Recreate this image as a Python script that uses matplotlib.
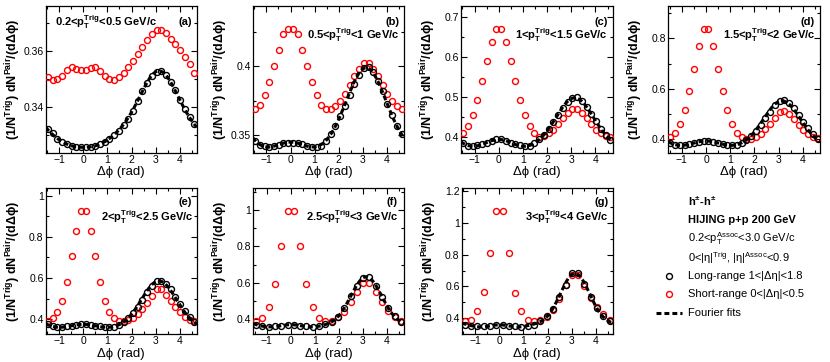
import numpy as np
import matplotlib
matplotlib.use('Agg')
import matplotlib.pyplot as plt
from matplotlib.ticker import MultipleLocator, AutoMinorLocator, FuncFormatter

plt.rcParams['font.family'] = ['Liberation Sans', 'DejaVu Sans']
plt.rcParams['mathtext.fontset'] = 'custom'
plt.rcParams['mathtext.rm'] = 'Liberation Sans'
plt.rcParams['mathtext.bf'] = 'Liberation Sans:bold'
plt.rcParams['mathtext.it'] = 'Liberation Sans:italic'
plt.rcParams['mathtext.fallback'] = 'stixsans'

# ---------------- data ----------------
edges32 = np.linspace(-np.pi / 2, 3 * np.pi / 2, 33)
dphi32 = 0.5 * (edges32[:-1] + edges32[1:])
edges24 = np.linspace(-np.pi / 2, 3 * np.pi / 2, 25)
dphi24 = 0.5 * (edges24[:-1] + edges24[1:])

a_long = [0.3322, 0.3305, 0.3285, 0.3275, 0.3266, 0.3261, 0.3257, 0.3255, 0.3255, 0.3257, 0.3261,
          0.3267, 0.3275, 0.3285, 0.3298, 0.3315, 0.3335, 0.3358, 0.3386, 0.3420, 0.3455, 0.3485,
          0.3510, 0.3525, 0.3527, 0.3515, 0.3490, 0.3460, 0.3425, 0.3392, 0.3362, 0.3340]
a_short = [0.3506, 0.3495, 0.3500, 0.3510, 0.3530, 0.3542, 0.3535, 0.3531, 0.3533, 0.3540, 0.3543,
           0.3527, 0.3510, 0.3498, 0.3495, 0.3507, 0.3521, 0.3543, 0.3565, 0.3590, 0.3615, 0.3640,
           0.3660, 0.3675, 0.3675, 0.3663, 0.3642, 0.3626, 0.3603, 0.3578, 0.3552, 0.3520]

b_long = [0.3458, 0.3431, 0.3419, 0.3417, 0.3420, 0.3432, 0.3442, 0.3447, 0.3447, 0.3442, 0.3435,
          0.3425, 0.3418, 0.3415, 0.3425, 0.3458, 0.3507, 0.3568, 0.3641, 0.3714, 0.3795, 0.3873,
          0.3941, 0.3990, 0.3995, 0.3958, 0.3897, 0.3819, 0.3730, 0.3650, 0.3570, 0.3510]
b_short = [0.3688, 0.3722, 0.3790, 0.3890, 0.4000, 0.4122, 0.4234, 0.4269, 0.4269, 0.4234, 0.4122,
           0.4000, 0.3890, 0.3790, 0.3722, 0.3690, 0.3690, 0.3710, 0.3750, 0.3800, 0.3868, 0.3927,
           0.3983, 0.4027, 0.4027, 0.3983, 0.3927, 0.3868, 0.3800, 0.3750, 0.3715, 0.3690]

c_long = [0.383, 0.377, 0.376, 0.378, 0.381, 0.385, 0.390, 0.393, 0.393, 0.390, 0.385,
          0.381, 0.378, 0.376, 0.377, 0.383, 0.393, 0.405, 0.420, 0.437, 0.455, 0.471,
          0.487, 0.497, 0.499, 0.490, 0.475, 0.458, 0.440, 0.420, 0.405, 0.392]
c_short = [0.410, 0.427, 0.4545, 0.493, 0.539, 0.590, 0.639, 0.670, 0.670, 0.639, 0.590,
           0.539, 0.493, 0.4545, 0.427, 0.410, 0.400, 0.403, 0.410, 0.418, 0.432, 0.446,
           0.459, 0.469, 0.469, 0.460, 0.446, 0.432, 0.418, 0.410, 0.403, 0.400]

d_long = [0.384, 0.378, 0.376, 0.378, 0.381, 0.386, 0.390, 0.393, 0.393, 0.390, 0.386,
          0.381, 0.378, 0.376, 0.378, 0.385, 0.396, 0.412, 0.432, 0.456, 0.483, 0.510,
          0.534, 0.550, 0.554, 0.545, 0.523, 0.497, 0.470, 0.445, 0.420, 0.400]
d_short = [0.408, 0.424, 0.459, 0.516, 0.591, 0.678, 0.771, 0.836, 0.836, 0.771, 0.678,
           0.591, 0.516, 0.459, 0.424, 0.408, 0.400, 0.400, 0.410, 0.423, 0.440, 0.460,
           0.484, 0.510, 0.513, 0.500, 0.480, 0.456, 0.437, 0.420, 0.410, 0.405]

e_long = [0.375, 0.365, 0.362, 0.362, 0.365, 0.368, 0.372, 0.375, 0.375, 0.372, 0.368,
          0.365, 0.362, 0.362, 0.363, 0.370, 0.385, 0.405, 0.430, 0.460, 0.495, 0.530,
          0.563, 0.585, 0.588, 0.572, 0.545, 0.510, 0.475, 0.440, 0.410, 0.385]
e_short = [0.393, 0.405, 0.435, 0.489, 0.580, 0.706, 0.828, 0.925, 0.925, 0.828, 0.706,
           0.580, 0.489, 0.435, 0.405, 0.393, 0.390, 0.395, 0.408, 0.425, 0.450, 0.480,
           0.515, 0.548, 0.548, 0.520, 0.490, 0.460, 0.435, 0.410, 0.395, 0.390]

f_long = [0.367, 0.360, 0.357, 0.360, 0.363, 0.368, 0.368, 0.363, 0.360, 0.357, 0.360, 0.370,
          0.385, 0.413, 0.459, 0.528, 0.582, 0.627, 0.633, 0.582, 0.522, 0.462, 0.415, 0.385]
f_short = [0.391, 0.407, 0.468, 0.594, 0.805, 0.995, 0.995, 0.805, 0.594, 0.466, 0.407, 0.391,
           0.390, 0.410, 0.440, 0.492, 0.550, 0.596, 0.596, 0.550, 0.492, 0.445, 0.410, 0.390]

g_long = [0.358, 0.350, 0.350, 0.350, 0.352, 0.355, 0.355, 0.352, 0.350, 0.347, 0.350, 0.360,
          0.380, 0.415, 0.460, 0.535, 0.610, 0.683, 0.683, 0.615, 0.535, 0.465, 0.415, 0.380]
g_short = [0.385, 0.391, 0.446, 0.563, 0.810, 1.073, 1.073, 0.810, 0.560, 0.446, 0.391, 0.385,
           0.388, 0.410, 0.450, 0.520, 0.610, 0.672, 0.672, 0.605, 0.525, 0.470, 0.425, 0.390]

trig_ranges = ['0.2<', '0.5<', '1<', '1.5<', '2<', '2.5<', '3<']
trig_uppers = ['<0.5 GeV/c', '<1 GeV/c', '<1.5 GeV/c', '<2 GeV/c', '<2.5 GeV/c', '<3 GeV/c', '<4 GeV/c']
panel_tags = ['(a)', '(b)', '(c)', '(d)', '(e)', '(f)', '(g)']
ylims = [(0.3236, 0.376), (0.3373, 0.4439), (0.3598, 0.7284), (0.347, 0.928),
         (0.327, 1.036), (0.316, 1.12), (0.299, 1.217)]
ymajor = [0.02, 0.05, 0.1, 0.2, 0.2, 0.2, 0.2]

longs = [a_long, b_long, c_long, d_long, e_long, f_long, g_long]
shorts = [a_short, b_short, c_short, d_short, e_short, f_short, g_short]
xbins = [dphi32, dphi32, dphi32, dphi32, dphi32, dphi24, dphi24]

legend_lines = [r'$\mathbf{h^{\pm}}$-$\mathbf{h^{\pm}}$', 'HIJING p+p 200 GeV',
                r'0.2<$\mathrm{p_{T}^{Assoc}}$<3.0 GeV/c',
                r'0<|η|$\mathrm{^{Trig}}$, |η|$\mathrm{^{Assoc}}$<0.9']
legend_entries = ['Long-range 1<|Δη|<1.8', 'Short-range 0<|Δη|<0.5', 'Fourier fits']

# ---------------- layout ----------------
W, H = 830, 362
fig = plt.figure(figsize=(W / 100, H / 100), dpi=100)

boxes = [(45.7, 6, 196.7, 152.7), (252.7, 6, 404, 152.7), (460.7, 6, 612.7, 152.7), (668, 6, 820, 152.7),
         (45.7, 188.3, 196.7, 334.3), (253, 188.3, 404, 334.3), (461.7, 188.3, 612.7, 334.3)]
tag_pos = [(0.969, 0.891), (0.967, 0.891), (0.967, 0.891), (0.967, 0.891),
           (0.969, 0.906), (0.960, 0.906), (0.975, 0.906)]
txt_pos = [(0.062, 0.891, 'left'), (0.967, 0.80, 'right'), (0.967, 0.80, 'right'), (0.967, 0.80, 'right'),
           (0.982, 0.805, 'right'), (0.960, 0.803, 'right'), (0.975, 0.803, 'right')]


def fourier_fit(x, y, nmax=4):
    x = np.asarray(x)
    cols = [np.ones_like(x)] + [np.cos(n * x) for n in range(1, nmax + 1)]
    A = np.vstack(cols).T
    coef, *_ = np.linalg.lstsq(A, np.asarray(y), rcond=None)
    xf = np.linspace(-np.pi / 2, 3 * np.pi / 2, 400)
    Af = np.vstack([np.ones_like(xf)] + [np.cos(n * xf) for n in range(1, nmax + 1)]).T
    return xf, Af @ coef


fmt = FuncFormatter(lambda v, p: f'{v:g}'.replace('-', '\u2212'))

for i in range(7):
    l, t, r, b = boxes[i]
    ax = fig.add_axes([l / W, 1 - b / H, (r - l) / W, (b - t) / H])
    x = xbins[i]
    ax.plot(x, shorts[i], 'o', ms=4.3, mfc='none', mec='#ff0000', mew=1.0, zorder=3)
    ax.plot(x, longs[i], 'o', ms=4.3, mfc='none', mec='black', mew=1.0, zorder=4)
    xf, yf = fourier_fit(x, longs[i])
    ax.plot(xf, yf, color='black', lw=2.2, ls=(0, (1.6, 1.0)), zorder=5)
    ax.set_xlim(-np.pi / 2, 3 * np.pi / 2)
    ax.set_ylim(*ylims[i])
    ax.xaxis.set_major_locator(MultipleLocator(1))
    ax.xaxis.set_minor_locator(MultipleLocator(0.5))
    ax.yaxis.set_major_locator(MultipleLocator(ymajor[i]))
    ax.yaxis.set_minor_locator(AutoMinorLocator(2))
    ax.xaxis.set_major_formatter(fmt)
    ax.yaxis.set_major_formatter(fmt)
    ax.tick_params(which='both', direction='in', top=True, right=True, labelsize=7.5, pad=1.5, width=0.8)
    ax.tick_params(which='major', length=4.5)
    ax.tick_params(which='minor', length=2.5)
    for sp in ax.spines.values():
        sp.set_linewidth(0.9)
    ax.set_xlabel('Δϕ (rad)', fontsize=9.5, labelpad=1)
    ax.set_ylabel(r'(1/N$\mathbf{^{Trig}}$) dN$\mathbf{^{Pair}}$/(dΔϕ)', fontsize=9, fontweight='bold')
    ax.yaxis.set_label_coords(-0.15, 0.5)
    tx, ty = tag_pos[i]
    ax.text(tx, ty, panel_tags[i], transform=ax.transAxes, ha='right', va='center',
            fontsize=8, fontweight='bold')
    px, py, pha = txt_pos[i]
    ax.text(px, py, trig_ranges[i] + r'$\mathbf{p_{T}^{Trig}}$' + trig_uppers[i], transform=ax.transAxes,
            ha=pha, va='center', fontsize=8, fontweight='bold')

# legend overlay
lax = fig.add_axes([0, 0, 1, 1])
lax.set_xlim(0, W)
lax.set_ylim(H, 0)
lax.axis('off')
lax.text(688, 201.7, legend_lines[0], fontsize=8, fontweight='bold', va='center')
lax.text(688, 220, legend_lines[1], fontsize=8, fontweight='bold', va='center')
lax.text(688, 238.3, legend_lines[2], fontsize=8, va='center')
lax.text(688, 257.7, legend_lines[3], fontsize=8, va='center')
lax.plot([669.3], [275.7], 'o', ms=4.3, mfc='none', mec='black', mew=1.0)
lax.text(688, 275.7, legend_entries[0], fontsize=8, va='center')
lax.plot([669.3], [294], 'o', ms=4.3, mfc='none', mec='#ff0000', mew=1.0)
lax.text(688, 294, legend_entries[1], fontsize=8, va='center')
lax.plot([655.7, 681.7], [312.7, 312.7], color='black', lw=2.2, ls=(0, (1.6, 1.0)))
lax.text(688, 312.7, legend_entries[2], fontsize=8, va='center')

fig.savefig('out.png', dpi=100)
